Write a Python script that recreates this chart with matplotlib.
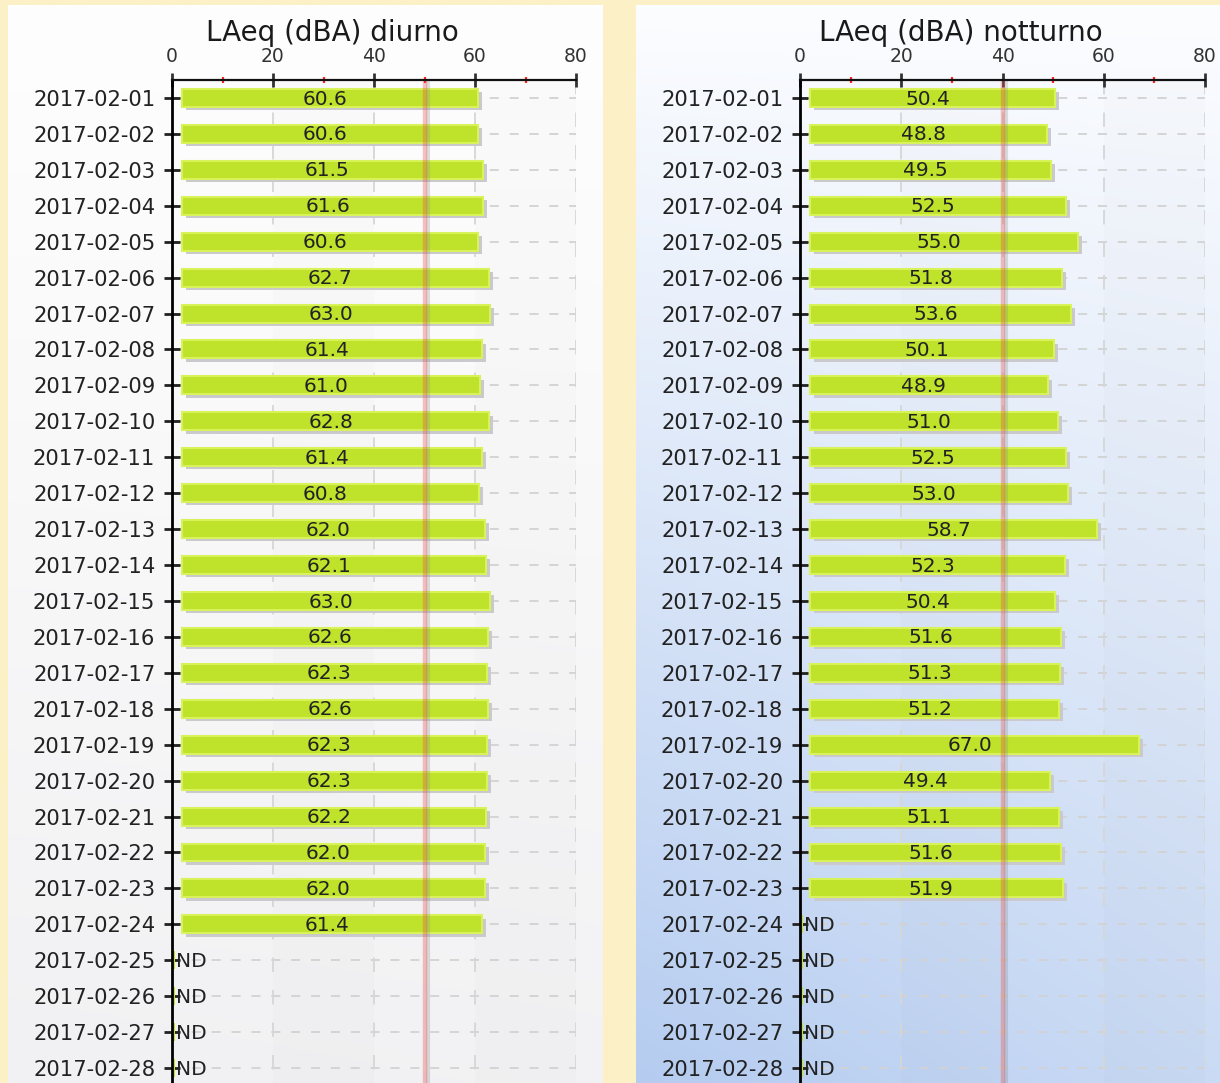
import numpy as np
import matplotlib
matplotlib.use("Agg")
import matplotlib.pyplot as plt

# ---------------- data ----------------
dates = ["2017-02-01", "2017-02-02", "2017-02-03", "2017-02-04", "2017-02-05",
         "2017-02-06", "2017-02-07", "2017-02-08", "2017-02-09", "2017-02-10",
         "2017-02-11", "2017-02-12", "2017-02-13", "2017-02-14", "2017-02-15",
         "2017-02-16", "2017-02-17", "2017-02-18", "2017-02-19", "2017-02-20",
         "2017-02-21", "2017-02-22", "2017-02-23", "2017-02-24", "2017-02-25",
         "2017-02-26", "2017-02-27", "2017-02-28"]
diurno = [60.6, 60.6, 61.5, 61.6, 60.6, 62.7, 63.0, 61.4, 61.0, 62.8,
          61.4, 60.8, 62.0, 62.1, 63.0, 62.6, 62.3, 62.6, 62.3, 62.3,
          62.2, 62.0, 62.0, 61.4, None, None, None, None]
notturno = [50.4, 48.8, 49.5, 52.5, 55.0, 51.8, 53.6, 50.1, 48.9, 51.0,
            52.5, 53.0, 58.7, 52.3, 50.4, 51.6, 51.3, 51.2, 67.0, 49.4,
            51.1, 51.6, 51.9, None, None, None, None, None]
titles = ["LAeq (dBA) diurno", "LAeq (dBA) notturno"]
limits = [50, 40]
xticks = [0, 20, 40, 60, 80]
xminor = [10, 30, 50, 70]

W, H = 1220, 1083
fig = plt.figure(figsize=(W / 100, H / 100), dpi=100)
fig.patch.set_facecolor("#fcf0c6")


def hex2rgb(h):
    h = h.lstrip("#")
    return np.array([int(h[i:i + 2], 16) / 255 for i in (0, 2, 4)])


def panel(x0, x1, ytop, c_top, c_bot, diag=0.0):
    ax = fig.add_axes([x0 / W, 0, (x1 - x0) / W, (H - ytop) / H], zorder=-5)
    ny, nx = 200, 200
    yy, xx = np.mgrid[0:1:ny * 1j, 0:1:nx * 1j]
    t = (1 - diag) * yy + diag * (1 - xx) * yy
    t = np.clip(t, 0, 1)[..., None]
    img = hex2rgb(c_top) * (1 - t) + hex2rgb(c_bot) * t
    ax.imshow(img, aspect="auto", extent=[0, 1, 0, 1], origin="upper")
    ax.axis("off")


panel(8, 603, 5, "#fefefe", "#f1f1f3", 0.1)
panel(636, 1220, 5, "#fcfdff", "#b5ccf0", 0.3)

axes_x = [(172, 576), (800, 1205)]
title_cx = [332, 961]
series = [diurno, notturno]

row_px = 35.93
top_px = 80
nrows_vis = (H - top_px) / row_px

for k in range(2):
    x0, x1 = axes_x[k]
    ax = fig.add_axes([x0 / W, 0, (x1 - x0) / W, (H - top_px) / H])
    ax.set_facecolor("none")
    vals = series[k]
    n = len(dates)
    ys = np.arange(n)
    ax.set_xlim(0, 80)
    ax.set_ylim(nrows_vis - 0.5, -0.5)

    # grid
    ax.hlines(ys, 0, 80, colors="#d2d2d2", linestyles=(0, (5, 6)), lw=1.3, zorder=0.5)
    ax.vlines([20, 40, 60, 80], -0.5, nrows_vis, colors="#d6d6d6",
              linestyles=(0, (8, 10)), lw=1.3, zorder=0.5)
    for a, b in [(20, 40), (60, 80)]:
        ax.axvspan(a, b, color="#000000", alpha=0.012, lw=0, zorder=0.3)

    start = 2.0
    dx, dy = 0.8, 0.09
    for i, v in enumerate(vals):
        if v is None:
            ax.barh(i, 0.6, left=0, height=0.5, color="#bfe22b", lw=0, zorder=3)
            ax.text(0.8, i + 0.03, "ND", ha="left", va="center", fontsize=14.5,
                    color="#222222", zorder=5)
            continue
        # shadow
        ax.barh(i + dy, v - start, left=start + dx, height=0.5,
                color="#c9c9ce", lw=0, zorder=1)
        ax.barh(i, v - start, left=start, height=0.5, color="#bfe22b",
                edgecolor="#d8f25a", lw=1.5, zorder=3)
        ax.text(v / 2, i + 0.03, f"{v:.1f}", ha="center", va="center",
                fontsize=14.5, color="#222222", zorder=5)

    # limit line
    lim = limits[k]
    ax.axvline(lim + 0.6, color="#8c8c8c", alpha=0.28, lw=3, zorder=4)
    ax.axvline(lim, color="#e8504f", alpha=0.35, lw=3.2, zorder=4.2)

    # axes styling
    for s in ["right", "bottom"]:
        ax.spines[s].set_visible(False)
    ax.spines["left"].set_color("#000000")
    ax.spines["left"].set_linewidth(2)
    ax.spines["top"].set_color("#111111")
    ax.spines["top"].set_linewidth(1.6)
    ax.spines["left"].set_zorder(6)
    ax.spines["top"].set_zorder(6)

    ax.xaxis.tick_top()
    ax.set_xticks(xticks)
    ax.set_xticks(xminor, minor=True)
    ax.set_xticklabels([str(t) for t in xticks])
    ax.tick_params(axis="x", which="major", direction="inout", length=10, width=2,
                   color="#333333", labelsize=13.5, pad=5, labelcolor="#333333")
    ax.tick_params(axis="x", which="minor", direction="inout", length=5, width=1.6,
                   color="#ff2020")
    ax.set_yticks(ys)
    ax.set_yticklabels(dates)
    ax.tick_params(axis="y", direction="inout", length=12, width=2, color="#222222",
                   labelsize=15.2, pad=6, labelcolor="#222222")

    fig.text(title_cx[k] / W, 1 - 33 / H, titles[k], ha="center", va="center",
             fontsize=20, color="#1a1a1a")

fig.savefig("out.png", dpi=100, facecolor=fig.get_facecolor())
